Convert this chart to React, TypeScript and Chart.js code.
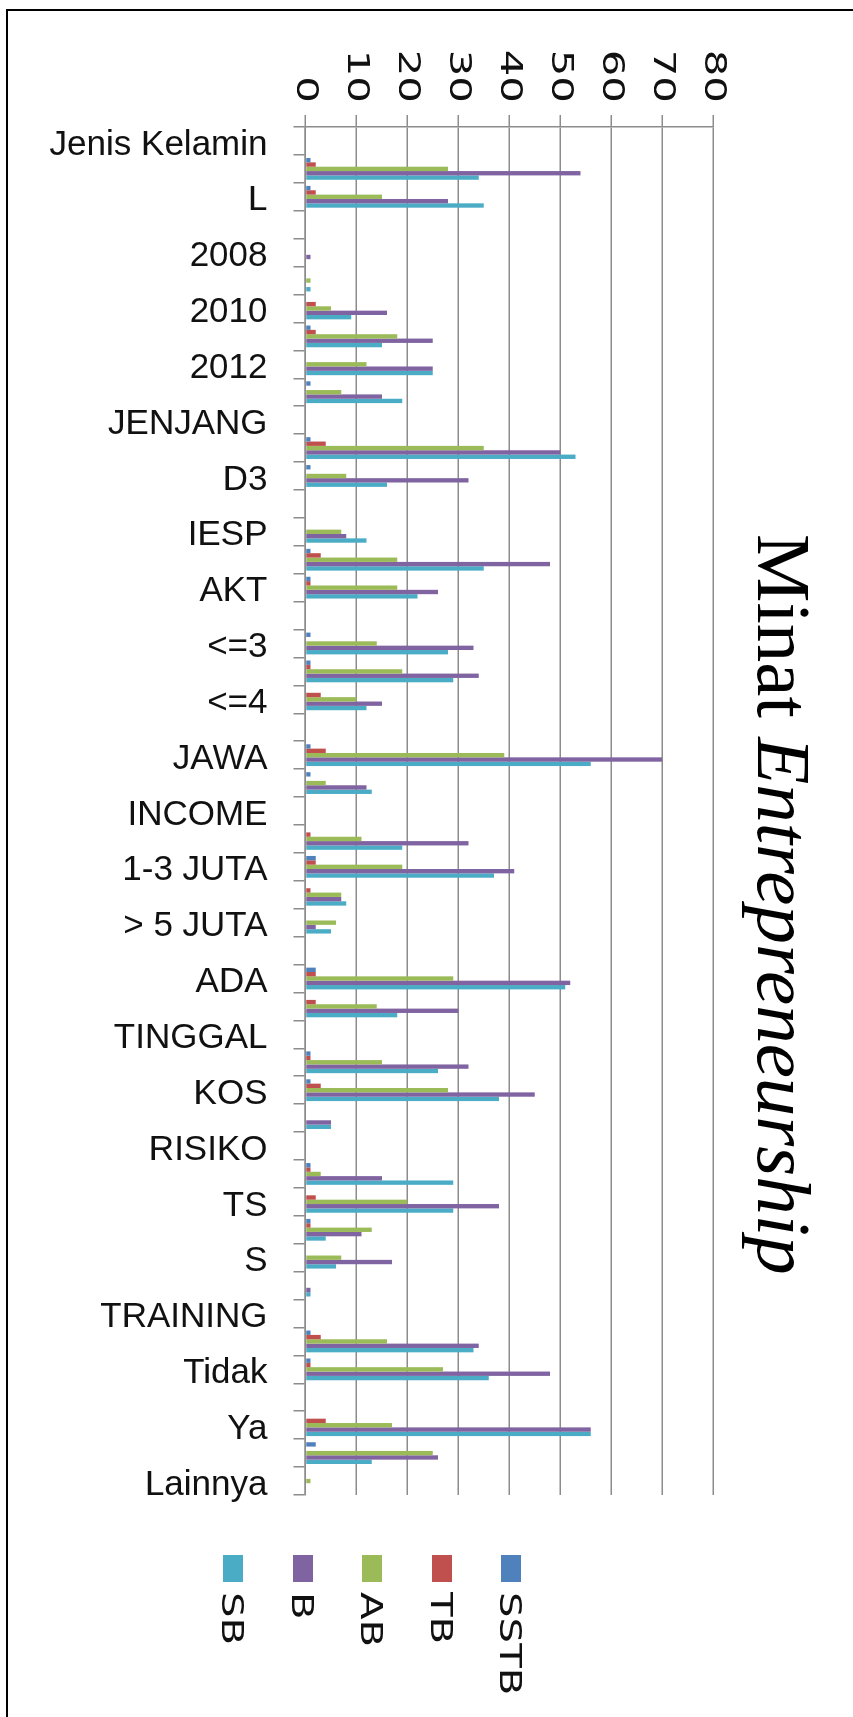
import React, { useEffect, useRef } from "react";
import { Chart, registerables } from "chart.js";

Chart.register(...registerables);

// ---- data (categories listed top to bottom as they appear) ----
const categories = [
  "Jenis Kelamin", "P", "L", "ANGKATAN", "2008", "2009", "2010", "2011", "2012", "2013",
  "JENJANG", "S1", "D3", "PRODI", "IESP", "MNJ", "AKT", "IPK", "<=3", "<=3,5",
  "<=4", "ASAL", "JAWA", "LUAR JAWA", "INCOME", "< 1 JUTA", "1-3 JUTA", "3-5 JUTA", "> 5 JUTA", "USAHA",
  "ADA", "TIDAK ADA", "TINGGAL", "ORTU", "KOS", "LAIN", "RISIKO", "STS", "TS", "N",
  "S", "SS", "TRAINING", "Ya", "Tidak", "INFO", "Ya", "Tidak", "Lainnya",
];

const seriesNames = ["SSTB", "TB", "AB", "B", "SB"];
const seriesColors = ["#4F81BD", "#C0504D", "#9BBB59", "#8064A2", "#4BACC6"];

const sstb = [0, 1, 1, 0, 0, 0, 0, 1, 0, 1, 0, 1, 1, 0, 0, 1, 1, 0, 1, 1, 0, 0, 1, 1, 0, 0, 2, 0, 0, 0, 2, 0, 0, 1, 1, 0, 0, 1, 0, 1, 0, 0, 0, 1, 1, 0, 0, 2, 0];
const tb = [0, 2, 2, 0, 0, 0, 2, 2, 0, 0, 0, 4, 0, 0, 0, 3, 1, 0, 0, 1, 3, 0, 4, 0, 0, 1, 2, 1, 0, 0, 2, 2, 0, 1, 3, 0, 0, 1, 2, 1, 0, 0, 0, 3, 1, 0, 4, 0, 0];
const ab = [0, 28, 15, 0, 0, 1, 5, 18, 12, 7, 0, 35, 8, 0, 7, 18, 18, 0, 14, 19, 10, 0, 39, 4, 0, 11, 19, 7, 6, 0, 29, 14, 0, 15, 28, 0, 0, 3, 20, 13, 7, 0, 0, 16, 27, 0, 17, 25, 1];
const b = [0, 54, 28, 0, 1, 0, 16, 25, 25, 15, 0, 50, 32, 0, 8, 48, 26, 0, 33, 34, 15, 0, 70, 12, 0, 32, 41, 7, 2, 0, 52, 30, 0, 32, 45, 5, 0, 15, 38, 11, 17, 1, 0, 34, 48, 0, 56, 26, 0];
const sb = [0, 34, 35, 0, 0, 1, 9, 15, 25, 19, 0, 53, 16, 0, 12, 35, 22, 0, 28, 29, 12, 0, 56, 13, 0, 19, 37, 8, 5, 0, 51, 18, 0, 26, 38, 5, 0, 29, 29, 4, 6, 1, 0, 33, 36, 0, 56, 13, 0];

const seriesValues = [sstb, tb, ab, b, sb];

const valueMin = 0;
const valueMax = 80;
const valueStep = 10;

const titlePlain = "Minat ";
const titleItalic = "Entrepreneurship";

// ---- layout (page is 853 x 1717, chart drawn unrotated then turned 90deg clockwise) ----
const PAGE_W = 853;
const PAGE_H = 1717;
const TICK_STRETCH = 1.35;

// stretches the value-axis tick labels along their reading direction (as in the reference)
const stretchValueTicks = {
  id: "stretchValueTicks",
  afterLayout(chart: any) {
    const s: any = chart.scales.y;
    if (!s || s.__stretched) return;
    const orig = s.drawLabels;
    s.drawLabels = function (area: any) {
      const ctx = this.ctx;
      const ax = this.right - this.options.grid.tickLength - this.options.ticks.padding;
      ctx.save();
      ctx.translate(ax, 0);
      ctx.scale(TICK_STRETCH, 1);
      ctx.translate(-ax, 0);
      orig.call(this, area);
      ctx.restore();
    };
    s.__stretched = true;
  },
};

export default function App() {
  const canvasRef = useRef<HTMLCanvasElement | null>(null);

  useEffect(() => {
    const canvas = canvasRef.current;
    if (!canvas) return;
    const chart = new Chart(canvas, {
      type: "bar",
      data: {
        labels: categories,
        datasets: seriesNames.map((name, i) => ({
          label: name,
          data: seriesValues[i],
          backgroundColor: seriesColors[i],
          borderWidth: 0,
          categoryPercentage: 0.78,
          barPercentage: 1.0,
        })),
      },
      options: {
        responsive: false,
        animation: false,
        devicePixelRatio: 1,
        layout: { padding: { left: 0, top: 140, right: 222, bottom: 0 } },
        plugins: {
          legend: { display: false },
          title: { display: false },
          tooltip: { enabled: false },
        },
        scales: {
          x: {
            type: "category",
            position: "bottom",
            grid: {
              offset: true,
              drawOnChartArea: false,
              drawTicks: true,
              tickLength: 12,
              color: "#8c8c8c",
              lineWidth: 1.5,
            },
            border: { display: true, color: "#8c8c8c", width: 1.5 },
            ticks: {
              autoSkip: false,
              minRotation: 90,
              maxRotation: 90,
              padding: 26,
              labelOffset: 4,
              color: "#111",
              font: { family: "'Liberation Sans', Arial, sans-serif", size: 35 },
              callback: (_v: any, i: number) => (i % 2 === 0 ? categories[i] : ""),
            },
            afterFit: (scale: any) => {
              scale.height = 305.5;
            },
          },
          y: {
            min: valueMin,
            max: valueMax,
            position: "left",
            grid: {
              color: "#8c8c8c",
              lineWidth: 1.5,
              tickLength: 12,
              drawTicks: true,
            },
            border: { display: true, color: "#8c8c8c", width: 1.5 },
            ticks: {
              stepSize: valueStep,
              padding: 12,
              color: "#111",
              font: { family: "'DejaVu Sans', sans-serif", size: 31 },
            },
            afterFit: (scale: any) => {
              scale.width = 127;
            },
          },
        },
      },
      plugins: [stretchValueTicks],
    } as any);
    return () => chart.destroy();
  }, []);

  const legendOrder = [...seriesNames.keys()].reverse(); // SB ... SSTB left to right

  return (
    <div
      style={{
        position: "absolute",
        left: 0,
        top: 0,
        width: PAGE_W,
        height: PAGE_H,
        overflow: "hidden",
        background: "#fff",
      }}
    >
      <div
        style={{
          position: "absolute",
          left: 6,
          top: 9,
          right: 0,
          bottom: 0,
          borderLeft: "2px solid #000",
          borderTop: "2px solid #000",
        }}
      />
      <canvas
        ref={canvasRef}
        width={PAGE_H}
        height={PAGE_W}
        style={{
          position: "absolute",
          left: 0,
          top: 0,
          width: PAGE_H,
          height: PAGE_W,
          transformOrigin: "0 0",
          transform: `translate(${PAGE_W}px, 0px) rotate(90deg)`,
        }}
      />
      <div
        style={{
          position: "absolute",
          left: 822,
          top: 534,
          transformOrigin: "0 0",
          transform: "rotate(90deg)",
          fontFamily: "'Liberation Serif', 'Times New Roman', serif",
          fontSize: 77,
          lineHeight: "77px",
          whiteSpace: "nowrap",
          color: "#000",
        }}
      >
        {titlePlain}
        <i>{titleItalic}</i>
      </div>
      {legendOrder.map((si, k) => {
        const cx = 233 + k * 69.5;
        return (
          <React.Fragment key={seriesNames[si]}>
            <div
              style={{
                position: "absolute",
                left: cx - 10,
                top: 1555,
                width: 20,
                height: 27,
                background: seriesColors[si],
              }}
            />
            <div
              style={{
                position: "absolute",
                left: cx + 15,
                top: 1592,
                transformOrigin: "0 0",
                transform: "rotate(90deg) scaleX(1.3)",
                fontFamily: "'DejaVu Sans', sans-serif",
                fontSize: 31,
                lineHeight: "31px",
                whiteSpace: "nowrap",
                color: "#111",
              }}
            >
              {seriesNames[si]}
            </div>
          </React.Fragment>
        );
      })}
    </div>
  );
}
